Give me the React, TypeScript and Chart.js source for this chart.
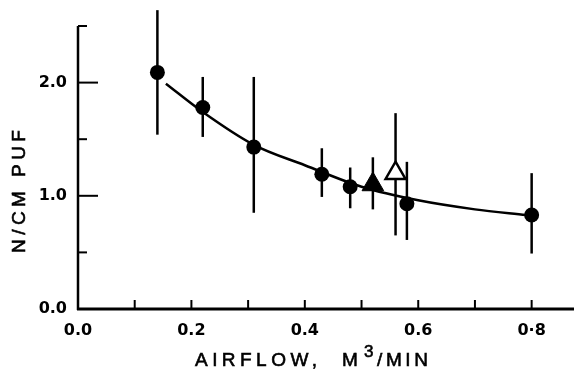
import React, { useEffect, useRef } from "react";
import { Chart, registerables } from "chart.js";

Chart.register(...registerables);

// ---- data ----
const circleX = [0.14, 0.22, 0.31, 0.43, 0.48, 0.58, 0.8];
const circleY = [2.09, 1.78, 1.43, 1.19, 1.08, 0.93, 0.83];
const circleHigh = [2.64, 2.05, 2.05, 1.42, 1.25, 1.3, 1.2];
const circleLow = [1.54, 1.52, 0.85, 0.99, 0.89, 0.61, 0.49];

const filledTriX = [0.52];
const filledTriY = [1.1];
const filledTriHigh = [1.34];
const filledTriLow = [0.88];

const openTriX = [0.56];
const openTriY = [1.2];
const openTriHigh = [1.73];
const openTriLow = [0.65];

const curveX = [0.155, 0.22, 0.31, 0.4, 0.5, 0.6, 0.7, 0.79];
const curveY = [1.99, 1.74, 1.45, 1.27, 1.08, 0.96, 0.88, 0.83];

const xTickLabels = ["0.0", "0.2", "0.4", "0.6", "0·8"];
const yTickLabels = ["0.0", "1.0", "2.0"];
const xTickMarks = [0.1, 0.2, 0.3, 0.4, 0.5, 0.6, 0.7, 0.8];
const yMajorTickMarks = [1.0, 2.0];
const yMinorTickMarks = [0.5, 1.5, 2.5];

const yTitle = "N/CM PUF";
const xTitleA = "AIRFLOW,";
const xTitleB = "M";
const xTitleSup = "3";
const xTitleC = "/MIN";

const toPoints = (xs: number[], ys: number[]) => xs.map((x, i) => ({ x, y: ys[i] }));

const errorSets = [
  { xs: circleX, hi: circleHigh, lo: circleLow },
  { xs: filledTriX, hi: filledTriHigh, lo: filledTriLow },
  { xs: openTriX, hi: openTriHigh, lo: openTriLow },
];

// draw text spread so that it spans a given width
function spreadText(ctx: any, text: string, x: number, y: number, width: number) {
  ctx.letterSpacing = "0px";
  const w = ctx.measureText(text).width;
  const n = text.length;
  const sp = n > 1 ? (width - w) / (n - 1) : 0;
  ctx.letterSpacing = sp.toFixed(2) + "px";
  ctx.fillText(text, x, y);
  ctx.strokeText(text, x, y);
  ctx.letterSpacing = "0px";
}

const titleFont = "19px 'Liberation Sans', Arial, sans-serif";

const decorPlugin = {
  id: "decor",
  beforeDatasetsDraw(chart: any) {
    const ctx = chart.ctx;
    const xs = chart.scales.x;
    const ys = chart.scales.y;
    ctx.save();
    ctx.strokeStyle = "#000";
    ctx.lineWidth = 2.5;
    ctx.lineCap = "butt";
    errorSets.forEach((s) => {
      s.xs.forEach((xv, i) => {
        const px = xs.getPixelForValue(xv);
        ctx.beginPath();
        ctx.moveTo(px, ys.getPixelForValue(s.hi[i]));
        ctx.lineTo(px, ys.getPixelForValue(s.lo[i]));
        ctx.stroke();
      });
    });
    ctx.restore();
  },
  afterDraw(chart: any) {
    const ctx = chart.ctx;
    const xs = chart.scales.x;
    const ys = chart.scales.y;
    const x0 = xs.getPixelForValue(0);
    const y0 = ys.getPixelForValue(0);
    const yTop = ys.getPixelForValue(2.5);
    ctx.save();
    ctx.strokeStyle = "#000";
    // axes
    ctx.lineWidth = 2.5;
    ctx.beginPath();
    ctx.moveTo(x0, yTop);
    ctx.lineTo(x0, y0 + 1);
    ctx.stroke();
    ctx.lineWidth = 3;
    ctx.beginPath();
    ctx.moveTo(x0 - 1, y0);
    ctx.lineTo(chart.width, y0);
    ctx.stroke();
    // ticks
    ctx.lineWidth = 2;
    xTickMarks.forEach((v) => {
      const px = xs.getPixelForValue(v);
      ctx.beginPath();
      ctx.moveTo(px, y0);
      ctx.lineTo(px, y0 - 9);
      ctx.stroke();
    });
    yMajorTickMarks.forEach((v) => {
      const py = ys.getPixelForValue(v);
      ctx.beginPath();
      ctx.moveTo(x0, py);
      ctx.lineTo(x0 + 20, py);
      ctx.stroke();
    });
    yMinorTickMarks.forEach((v) => {
      const py = ys.getPixelForValue(v);
      ctx.beginPath();
      ctx.moveTo(x0, py);
      ctx.lineTo(x0 + 9, py);
      ctx.stroke();
    });
    // titles
    ctx.fillStyle = "#000";
    ctx.lineWidth = 0.6;
    ctx.textBaseline = "alphabetic";
    ctx.textAlign = "left";
    ctx.font = titleFont;
    spreadText(ctx, xTitleA, 195, 366, 122);
    ctx.fillText(xTitleB, 342, 366);
    ctx.strokeText(xTitleB, 342, 366);
    spreadText(ctx, xTitleC, 377, 366, 51);
    ctx.font = "17px 'Liberation Sans', Arial, sans-serif";
    ctx.fillText(xTitleSup, 364, 357);
    ctx.strokeText(xTitleSup, 364, 357);
    ctx.font = titleFont;
    ctx.translate(25, 253);
    ctx.rotate(-Math.PI / 2);
    spreadText(ctx, yTitle, 0, 0, 123);
    ctx.restore();
  },
};

export default function App() {
  const ref = useRef<HTMLCanvasElement>(null);
  useEffect(() => {
    document.body.style.margin = "0";
    const canvas = ref.current;
    if (!canvas) return;
    const tickFont = { family: "'DejaVu Sans', sans-serif", size: 16, weight: "bold" as const };
    const chart = new Chart(canvas, {
      type: "scatter",
      data: {
        datasets: [
          {
            type: "line",
            data: toPoints(curveX, curveY),
            borderColor: "#000",
            borderWidth: 2.5,
            pointRadius: 0,
            cubicInterpolationMode: "monotone",
            fill: false,
            order: 5,
          } as any,
          {
            data: toPoints(circleX, circleY),
            pointStyle: "circle",
            pointRadius: 7.5,
            backgroundColor: "#000",
            borderColor: "#000",
            borderWidth: 0,
            order: 1,
          },
          {
            data: toPoints(filledTriX, filledTriY),
            pointStyle: "triangle",
            pointRadius: 12.5,
            backgroundColor: "#000",
            borderColor: "#000",
            borderWidth: 1,
            order: 2,
          },
          {
            data: toPoints(openTriX, openTriY),
            pointStyle: "triangle",
            pointRadius: 11.5,
            backgroundColor: "#fff",
            borderColor: "#000",
            borderWidth: 2.5,
            order: 3,
          },
        ],
      },
      options: {
        animation: false,
        responsive: false,
        clip: false as any,
        layout: { padding: { top: 26, right: 2, left: 0, bottom: 0 } },
        plugins: { legend: { display: false }, tooltip: { enabled: false } },
        scales: {
          x: {
            type: "linear",
            min: 0,
            max: 0.85,
            grid: { display: false, drawTicks: false },
            border: { display: false },
            ticks: {
              stepSize: 0.2,
              includeBounds: false,
              padding: 12,
              color: "#000",
              font: tickFont,
              maxRotation: 0,
              autoSkip: false,
              callback: (v: any) => {
                const idx = Math.round(Number(v) / 0.2);
                return Math.abs(Number(v) - idx * 0.2) < 1e-6 ? xTickLabels[idx] ?? "" : "";
              },
            },
            afterFit: (s: any) => {
              s.height = 60;
            },
          },
          y: {
            type: "linear",
            min: 0,
            max: 2.5,
            grid: { display: false, drawTicks: false },
            border: { display: false },
            ticks: {
              stepSize: 1,
              includeBounds: false,
              padding: 11,
              color: "#000",
              font: tickFont,
              autoSkip: false,
              callback: (v: any) => {
                const idx = Math.round(Number(v));
                return Math.abs(Number(v) - idx) < 1e-6 ? yTickLabels[idx] ?? "" : "";
              },
            },
            afterFit: (s: any) => {
              s.width = 78;
            },
          },
        },
      },
      plugins: [decorPlugin],
    });
    return () => chart.destroy();
  }, []);
  return <canvas ref={ref} width={574} height={369} style={{ display: "block" }} />;
}
